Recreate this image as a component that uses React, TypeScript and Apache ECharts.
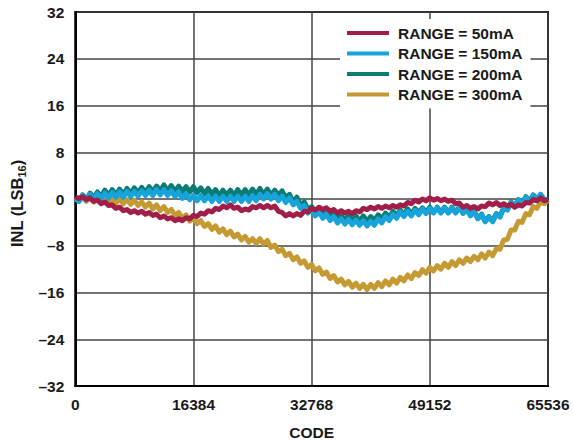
import React, { useEffect, useRef } from "react";
import * as echarts from "echarts";

// Sample spacing along CODE axis (codes between consecutive readings)
const CODE_STEP = 512;
const X_TICKS = [0, 16384, 32768, 49152, 65536];
const Y_TICKS = [-32, -24, -16, -8, 0, 8, 16, 24, 32];

const SERIES_NAMES = ["RANGE = 50mA", "RANGE = 150mA", "RANGE = 200mA", "RANGE = 300mA"];
const COLORS = ["#A01E48", "#17A4DA", "#0A7C74", "#C59A33"];

const INL_50MA = [
  0.4, 0.1, 0.4, -0.1, 0.2, -0.4, -0.2, -0.8, -0.5, -1.1, -1.0, -1.6, -1.4, -2.0, -1.8, -2.3,
  -2.0, -2.4, -2.1, -2.6, -2.3, -2.8, -2.6, -3.2, -2.9, -3.4, -3.2, -3.7, -3.4, -3.7, -3.2, -3.4,
  -2.8, -3.0, -2.4, -2.6, -2.0, -2.2, -1.6, -1.8, -1.2, -1.5, -1.0, -1.6, -1.4, -2.0, -1.7, -1.9,
  -1.3, -1.5, -1.1, -1.5, -1.1, -1.5, -1.2, -2.1, -2.3, -2.9, -2.5, -2.9, -2.5, -2.8, -2.1, -2.2,
  -1.6, -1.9, -1.4, -1.8, -1.5, -2.1, -1.8, -2.4, -2.0, -2.4, -2.1, -2.5, -2.0, -2.2, -1.6, -1.8,
  -1.4, -1.7, -1.3, -1.6, -1.2, -1.5, -1.1, -1.4, -1.0, -1.2, -0.6, -0.8, -0.2, -0.5, 0.0, -0.3,
  0.2, -0.2, 0.1, -0.3, 0.0, -0.4, -0.2, -0.8, -0.7, -1.4, -1.1, -1.6, -1.3, -1.7, -1.2, -1.3,
  -0.7, -1.0, -0.6, -1.1, -0.8, -1.2, -0.9, -1.4, -1.0, -1.2, -0.6, -0.7, -0.1, -0.3, 0.2, -0.3,
  -0.1,
];

const INL_150MA = [
  0.0, -0.4, 0.6, -0.2, 0.8, -0.1, 0.9, 0.1, 1.0, 0.2, 1.1, 0.3, 1.2, 0.3, 1.3, 0.4,
  1.3, 0.5, 1.4, 0.6, 1.5, 0.6, 1.6, 0.7, 1.6, 0.6, 1.4, 0.4, 1.2, 0.1, 0.9, -0.1,
  0.6, -0.3, 0.6, -0.3, 0.5, -0.4, 0.5, -0.4, 0.5, -0.4, 0.5, -0.4, 0.5, -0.4, 0.5, -0.4,
  0.6, -0.3, 0.8, 0.0, 0.9, 0.0, 0.8, -0.3, 0.5, -0.6, 0.2, -1.0, -0.4, -1.6, -1.1, -2.4,
  -1.8, -2.9, -2.2, -3.3, -2.6, -3.7, -3.0, -4.1, -3.4, -4.3, -3.5, -4.4, -3.6, -4.5, -3.7, -4.6,
  -3.8, -4.5, -3.4, -4.1, -3.0, -3.7, -2.6, -3.3, -2.2, -3.0, -2.1, -2.9, -1.9, -2.7, -1.7, -2.5,
  -1.6, -2.4, -1.5, -2.4, -1.5, -2.4, -1.5, -2.4, -1.4, -2.5, -1.8, -2.9, -2.2, -3.4, -2.7, -3.9,
  -3.1, -3.9, -2.6, -3.1, -1.6, -1.9, -0.6, -1.3, -0.2, -0.9, 0.3, -0.5, 0.6, -0.2, 0.8, -0.3,
  -0.1,
];

const INL_200MA = [
  0.0, -0.3, 0.7, -0.1, 1.0, 0.2, 1.2, 0.4, 1.5, 0.6, 1.6, 0.7, 1.7, 0.8, 1.8, 0.9,
  1.9, 1.0, 2.0, 1.1, 2.1, 1.3, 2.2, 1.4, 2.4, 1.4, 2.3, 1.3, 2.2, 1.3, 2.1, 1.2,
  2.1, 1.1, 1.9, 0.9, 1.8, 0.8, 1.6, 0.6, 1.5, 0.6, 1.5, 0.6, 1.6, 0.7, 1.6, 0.7,
  1.7, 0.8, 1.8, 0.8, 1.7, 0.7, 1.5, 0.6, 1.4, 0.2, 0.8, -0.5, 0.3, -1.0, -0.5, -1.8,
  -1.3, -2.3, -1.6, -2.7, -2.0, -3.1, -2.4, -3.5, -2.8, -3.7, -2.8, -3.7, -2.9, -3.8, -2.9, -3.8,
  -3.0, -3.7, -2.7, -3.4, -2.4, -3.2, -2.1, -2.9, -1.9, -2.7, -1.7, -2.6, -1.6, -2.4, -1.5, -2.3,
  -1.4, -2.3, -1.4, -2.3, -1.4, -2.3, -1.4, -2.3, -1.4, -2.4, -1.7, -2.8, -2.1, -3.3, -2.6, -3.8,
  -3.0, -3.8, -2.5, -3.0, -1.5, -1.8, -0.5, -1.2, -0.1, -0.8, 0.4, -0.4, 0.7, -0.1, 0.8, -0.2,
  -0.1,
];

const INL_300MA = [
  0.2, -0.4, 0.4, -0.4, 0.3, -0.5, 0.3, -0.5, 0.3, -0.6, 0.2, -0.7, 0.0, -0.8, -0.1, -0.9,
  -0.2, -1.1, -0.5, -1.4, -0.7, -1.7, -1.0, -2.0, -1.3, -2.3, -1.8, -2.8, -2.3, -3.3, -2.7, -3.8,
  -3.2, -4.2, -3.7, -4.7, -4.2, -5.2, -4.6, -5.7, -5.1, -6.1, -5.5, -6.5, -6.0, -7.0, -6.4, -7.4,
  -6.8, -7.6, -6.8, -7.7, -7.1, -8.3, -7.9, -9.0, -8.6, -9.7, -9.3, -10.4, -9.9, -11.0, -10.6, -11.7,
  -11.2, -12.3, -11.8, -12.9, -12.5, -13.6, -13.1, -14.2, -13.7, -14.7, -14.1, -15.1, -14.4, -15.3, -14.6, -15.5,
  -14.6, -15.3, -14.3, -15.0, -14.0, -14.7, -13.7, -14.4, -13.4, -14.0, -13.0, -13.6, -12.6, -13.1, -12.1, -12.7,
  -11.7, -12.3, -11.4, -12.0, -11.0, -11.7, -10.7, -11.4, -10.4, -11.0, -10.1, -10.7, -9.8, -10.4, -9.4, -10.1,
  -9.1, -9.7, -8.5, -8.6, -7.0, -6.9, -5.3, -5.3, -3.8, -4.0, -2.5, -2.7, -1.3, -1.6, -0.5, -0.8,
  -0.2,
];

const FONT = "'Liberation Sans', Arial, Helvetica, sans-serif";

function toPairs(values: number[]) {
  return values.map((v, i) => [i * CODE_STEP, v]);
}

export default function App() {
  const ref = useRef<HTMLDivElement>(null);
  useEffect(() => {
    document.body.style.margin = "0";
    const chart = echarts.init(ref.current!, undefined, { renderer: "svg" });
    const dataSets = [INL_50MA, INL_150MA, INL_200MA, INL_300MA];
    // draw order: 300mA, 200mA, 150mA, 50mA on top
    const order = [3, 2, 1, 0];
    const series = order.map((k) => ({
      name: SERIES_NAMES[k],
      type: "line",
      data: toPairs(dataSets[k]),
      symbol: "none",
      smooth: false,
      lineStyle: { color: COLORS[k], width: 5, join: "round" },
      itemStyle: { color: COLORS[k] },
      z: 3,
    }));
    const minusFmt = (v: number) => (v < 0 ? "\u2013" + Math.abs(v) : String(v));
    const labelStyle = { fontFamily: FONT, fontWeight: "bold", fontSize: 15.5, color: "#1a1a1a" };
    chart.setOption({
      animation: false,
      backgroundColor: "#ffffff",
      grid: {
        left: 75,
        right: 25,
        top: 12,
        bottom: 56,
        show: true,
        borderColor: "#000",
        borderWidth: 2,
        backgroundColor: "transparent",
      },
      legend: {
        data: SERIES_NAMES,
        orient: "vertical",
        left: 340,
        top: 19,
        padding: [6, 8, 6, 7],
        backgroundColor: "#ffffff",
        icon: "rect",
        itemWidth: 42,
        itemHeight: 4,
        itemGap: 4.5,
        z: 10,
        textStyle: {
          fontFamily: FONT,
          fontWeight: "bold",
          fontSize: 15.5,
          color: "#1a1a1a",
          lineHeight: 16,
          padding: [0, 0, 0, 4],
        },
      },
      xAxis: {
        type: "value",
        min: 0,
        max: 65536,
        interval: 16384,
        name: "CODE",
        nameLocation: "middle",
        nameGap: 38,
        nameTextStyle: { ...labelStyle },
        axisLine: { show: true, onZero: false, lineStyle: { color: "#000", width: 2 } },
        axisTick: { show: false },
        axisLabel: {
          margin: 10,
          ...labelStyle,
          customValues: X_TICKS,
          formatter: (v: number) => String(v),
        },
        splitLine: { show: true, lineStyle: { color: "#444", width: 1.5 } },
      },
      yAxis: {
        type: "value",
        min: -32,
        max: 32,
        interval: 8,
        name: "{a|INL (LSB}{b|16}{a|)}",
        nameLocation: "middle",
        nameGap: 46,
        nameRotate: 90,
        nameTextStyle: {
          align: "center",
          padding: [0, 9, 0, 0],
          rich: {
            a: { fontFamily: FONT, fontWeight: "bold", fontSize: 16.5, color: "#1a1a1a", lineHeight: 22 },
            b: {
              fontFamily: FONT,
              fontWeight: "bold",
              fontSize: 11,
              color: "#1a1a1a",
              lineHeight: 22,
              verticalAlign: "bottom",
            },
          },
        },
        axisLine: { show: true, onZero: false, lineStyle: { color: "#000", width: 2 } },
        axisTick: { show: false },
        axisLabel: {
          margin: 11,
          ...labelStyle,
          customValues: Y_TICKS,
          formatter: minusFmt,
        },
        splitLine: { show: true, lineStyle: { color: "#444", width: 1.5 } },
      },
      series,
    });
    return () => chart.dispose();
  }, []);
  return <div ref={ref} style={{ width: 573, height: 445 }} />;
}
